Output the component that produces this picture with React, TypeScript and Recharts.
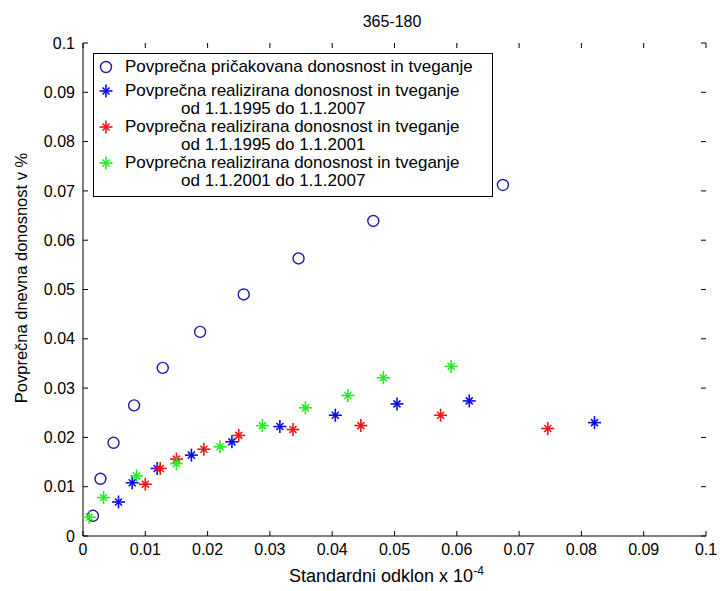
import React from 'react';
import { ScatterChart, Scatter, XAxis, YAxis } from 'recharts';

const FONT = "'Liberation Sans', Arial, sans-serif";
const NAVY = '#1c1ca6';
const BLUE = '#0a0aee';
const RED = '#ee1515';
const GREEN = '#22ee22';

const ticks = [0, 0.01, 0.02, 0.03, 0.04, 0.05, 0.06, 0.07, 0.08, 0.09, 0.1];
const tickLabels = ['0', '0.01', '0.02', '0.03', '0.04', '0.05', '0.06', '0.07', '0.08', '0.09', '0.1'];

// pričakovana (circles)
const expX = [0.0016, 0.0028, 0.0049, 0.0082, 0.0128, 0.0188, 0.0258, 0.0346, 0.0466, 0.0674];
const expY = [0.0041, 0.0116, 0.0189, 0.0265, 0.0341, 0.0414, 0.049, 0.0563, 0.0639, 0.0712];

// realizirana 1995-2007
const allX = [0.0057, 0.0079, 0.0119, 0.0174, 0.0239, 0.0316, 0.0405, 0.0504, 0.062, 0.0821];
const allY = [0.0069, 0.0108, 0.0137, 0.0164, 0.0191, 0.0222, 0.0245, 0.0268, 0.0274, 0.023];

// realizirana 1995-2001
const firstX = [0.01, 0.0124, 0.015, 0.0194, 0.025, 0.0337, 0.0446, 0.0574, 0.0746];
const firstY = [0.0105, 0.0137, 0.0156, 0.0176, 0.0204, 0.0216, 0.0224, 0.0245, 0.0218];

// realizirana 2001-2007
const secondX = [0.001, 0.0033, 0.0086, 0.015, 0.022, 0.0288, 0.0357, 0.0425, 0.0482, 0.0591];
const secondY = [0.0038, 0.0078, 0.0122, 0.0147, 0.0181, 0.0224, 0.026, 0.0285, 0.0321, 0.0344];

const toPoints = (xs: number[], ys: number[]) => xs.map((x, i) => ({ x, y: ys[i] }));

// layout
const MARGIN = { top: 43, right: 14, bottom: 30, left: 23 };
const W = 720;
const H = 591;
const PLOT_TOP = MARGIN.top;
const PLOT_RIGHT = W - MARGIN.right;

const OpenCircle = (p: any) => (
  <circle cx={p.cx} cy={p.cy} r={5.5} fill="none" stroke={NAVY} strokeWidth={1.4} />
);

const makeStar = (color: string) => (p: any) => {
  const { cx, cy } = p;
  return (
    <g stroke={color} strokeWidth={1.6}>
      <line x1={cx - 6.5} y1={cy} x2={cx + 6.5} y2={cy} />
      <line x1={cx} y1={cy - 6.5} x2={cx} y2={cy + 6.5} />
      <line x1={cx - 3.5} y1={cy - 3.5} x2={cx + 3.5} y2={cy + 3.5} />
      <line x1={cx - 3.5} y1={cy + 3.5} x2={cx + 3.5} y2={cy - 3.5} />
    </g>
  );
};

// bottom tick: label, plus the matching inward tick on the top edge of the box
const XTick = (p: any) => (
  <g>
    <text x={p.x} y={p.y} dy="0.71em" textAnchor="middle" fill="#000" fontSize={16} fontFamily={FONT}>
      {tickLabels[p.index]}
    </text>
    <line x1={p.x} y1={PLOT_TOP} x2={p.x} y2={PLOT_TOP + 5} stroke="#000" />
  </g>
);

// left tick: label, plus the matching inward tick on the right edge of the box
const YTick = (p: any) => (
  <g>
    <text x={p.x} y={p.y} dy="0.355em" textAnchor="end" fill="#000" fontSize={16} fontFamily={FONT}>
      {tickLabels[p.index]}
    </text>
    <line x1={PLOT_RIGHT} y1={p.y} x2={PLOT_RIGHT - 5} y2={p.y} stroke="#000" />
  </g>
);

const legendItems = [
  { kind: 'circle', color: NAVY, lines: ['Povprečna pričakovana donosnost in tveganje'] },
  { kind: 'star', color: BLUE, lines: ['Povprečna realizirana donosnost in tveganje', 'od 1.1.1995 do 1.1.2007'] },
  { kind: 'star', color: RED, lines: ['Povprečna realizirana donosnost in tveganje', 'od 1.1.1995 do 1.1.2001'] },
  { kind: 'star', color: GREEN, lines: ['Povprečna realizirana donosnost in tveganje', 'od 1.1.2001 do 1.1.2007'] },
];

export default function App() {
  return (
    <div style={{ position: 'absolute', left: 0, top: 0, width: W, height: H, background: '#fff', fontFamily: FONT }}>
      <ScatterChart width={W} height={H} margin={MARGIN}>
        <XAxis
          type="number"
          dataKey="x"
          domain={[0, 0.1]}
          ticks={ticks}
          interval={0}
          allowDataOverflow
          tickSize={-5}
          tickMargin={13}
          tick={XTick}
          stroke="#000"
          height={25}
        />
        <XAxis
          xAxisId="top"
          orientation="top"
          type="number"
          domain={[0, 0.1]}
          tick={false}
          tickLine={false}
          stroke="#000"
          height={0}
        />
        <YAxis
          type="number"
          dataKey="y"
          domain={[0, 0.1]}
          ticks={ticks}
          interval={0}
          allowDataOverflow
          tickSize={-5}
          tickMargin={13}
          tick={YTick}
          stroke="#000"
          width={60}
        />
        <YAxis
          yAxisId="right"
          orientation="right"
          type="number"
          domain={[0, 0.1]}
          tick={false}
          tickLine={false}
          stroke="#000"
          width={0}
        />
        <Scatter data={toPoints(expX, expY)} shape={OpenCircle} isAnimationActive={false} />
        <Scatter data={toPoints(allX, allY)} shape={makeStar(BLUE)} isAnimationActive={false} />
        <Scatter data={toPoints(firstX, firstY)} shape={makeStar(RED)} isAnimationActive={false} />
        <Scatter data={toPoints(secondX, secondY)} shape={makeStar(GREEN)} isAnimationActive={false} />
      </ScatterChart>

      <div style={{ position: 'absolute', left: 0, top: 13, width: 784, textAlign: 'center', fontSize: 16 }}>365-180</div>
      <div
        style={{
          position: 'absolute',
          left: 21,
          top: 278,
          transform: 'translate(-50%, -50%) rotate(-90deg)',
          whiteSpace: 'nowrap',
          fontSize: 16.5,
        }}
      >
        Povprečna dnevna donosnost v %
      </div>
      <div style={{ position: 'absolute', left: 289, top: 564, whiteSpace: 'nowrap', fontSize: 18 }}>
        Standardni odklon x 10<sup style={{ fontSize: 12 }}>-4</sup>
      </div>

      <div
        style={{
          position: 'absolute',
          left: 93,
          top: 53,
          width: 398,
          height: 142,
          border: '1px solid #000',
          background: '#fff',
          fontSize: 17,
          lineHeight: '18px',
        }}
      >
        {legendItems.map((it, i) => (
          <div key={i} style={{ position: 'relative', marginTop: i === 0 ? 4 : i === 1 ? 6 : 0 }}>
            <svg width={16} height={16} style={{ position: 'absolute', left: 4, top: 1 }}>
              {it.kind === 'circle'
                ? <circle cx={8} cy={8} r={5.5} fill="none" stroke={it.color} strokeWidth={1.4} />
                : makeStar(it.color)({ cx: 8, cy: 8 })}
            </svg>
            {it.lines.map((l, j) => (
              <div key={j} style={{ paddingLeft: j === 0 ? 31 : 87, whiteSpace: 'nowrap' }}>{l}</div>
            ))}
          </div>
        ))}
      </div>
    </div>
  );
}
